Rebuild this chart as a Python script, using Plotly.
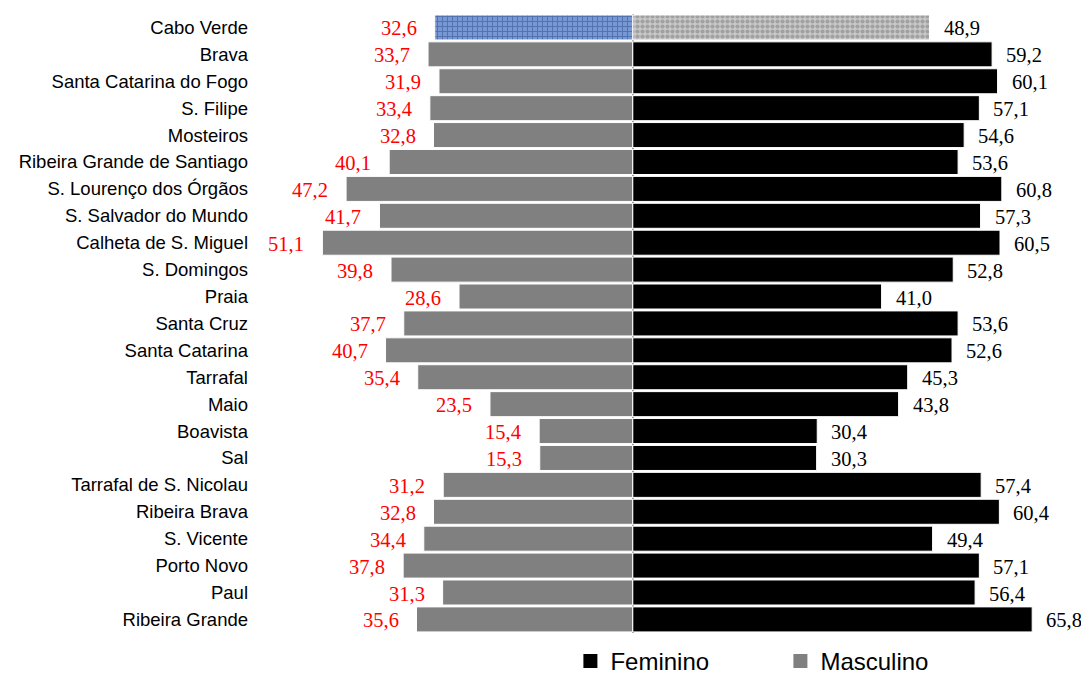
import plotly.graph_objects as go

categories = ["Cabo Verde", "Brava", "Santa Catarina do Fogo", "S. Filipe", "Mosteiros",
              "Ribeira Grande de Santiago", "S. Lourenço dos Órgãos", "S. Salvador do Mundo",
              "Calheta de S. Miguel", "S. Domingos", "Praia", "Santa Cruz", "Santa Catarina",
              "Tarrafal", "Maio", "Boavista", "Sal", "Tarrafal de S. Nicolau", "Ribeira Brava",
              "S. Vicente", "Porto Novo", "Paul", "Ribeira Grande"]
masculino = [32.6, 33.7, 31.9, 33.4, 32.8, 40.1, 47.2, 41.7, 51.1, 39.8, 28.6, 37.7, 40.7,
             35.4, 23.5, 15.4, 15.3, 31.2, 32.8, 34.4, 37.8, 31.3, 35.6]
feminino = [48.9, 59.2, 60.1, 57.1, 54.6, 53.6, 60.8, 57.3, 60.5, 52.8, 41.0, 53.6, 52.6,
            45.3, 43.8, 30.4, 30.3, 57.4, 60.4, 49.4, 57.1, 56.4, 65.8]
series_names = ["Feminino", "Masculino"]
series_colors = ["#000000", "#808080"]

def fmt(v):
    return f"{v:.1f}".replace(".", ",")

num_font = "Liberation Serif, Times New Roman, serif"
lab_font = "Liberation Sans, Arial, sans-serif"

fig = go.Figure()

# Main series (excluding Cabo Verde total, drawn with textures)
fig.add_trace(go.Bar(
    name="Feminino", y=categories[1:], x=feminino[1:], orientation="h", showlegend=False,
    marker=dict(color="#000000", line=dict(color="#ffffff", width=1)),
))
fig.add_trace(go.Bar(
    name="Masculino", y=categories[1:], x=[-v for v in masculino[1:]], orientation="h",
    showlegend=False,
    marker=dict(color="#808080", line=dict(color="#ffffff", width=1)),
))
# Cabo Verde textured bars
fig.add_trace(go.Bar(
    y=categories[:1], x=feminino[:1], orientation="h", showlegend=False,
    marker=dict(color="#c4c4c4", line=dict(color="#ffffff", width=1),
                pattern=dict(shape=".", fgcolor="#7a7a7a", bgcolor="#c8c8c8", size=5, solidity=0.55)),
))
fig.add_trace(go.Bar(
    y=categories[:1], x=[-masculino[0]], orientation="h", showlegend=False,
    marker=dict(color="#7393d0", line=dict(color="#ffffff", width=1),
                pattern=dict(shape="+", fgcolor="#2a4a8a", bgcolor="#7898d4", size=5, solidity=0.35)),
))

# Legend entries
for nm, col in zip(series_names, series_colors):
    fig.add_trace(go.Scatter(
        x=[None], y=[None], mode="markers", name=nm,
        marker=dict(symbol="square", size=14, color=col),
    ))

annotations = []
for c, m, f in zip(categories, masculino, feminino):
    annotations.append(dict(x=-m, y=c, xref="x", yref="y", text=fmt(m), showarrow=False,
                            xanchor="right", xshift=-16, yshift=-1,
                            font=dict(family=num_font, size=20.5, color="#ff0000")))
    annotations.append(dict(x=f, y=c, xref="x", yref="y", text=fmt(f), showarrow=False,
                            xanchor="left", xshift=12, yshift=-1,
                            font=dict(family=num_font, size=20.5, color="#000000")))

fig.update_layout(
    width=1089, height=682,
    margin=dict(l=247, r=12, t=6, b=55),
    barmode="overlay", bargap=0.07,
    plot_bgcolor="#ffffff", paper_bgcolor="#ffffff",
    annotations=annotations,
    showlegend=True,
    legend=dict(orientation="h", xref="paper", x=0.38, xanchor="left",
                yref="container", y=0.042, yanchor="middle",
                font=dict(family=lab_font, size=24, color="#000000"),
                entrywidth=165, entrywidthmode="pixels", itemclick=False),
)
fig.update_xaxes(range=[-62.2, 74.5], showgrid=False, showticklabels=False, ticks="",
                 zeroline=True, zerolinecolor="#8c8c8c", zerolinewidth=2, layer="above traces",
                 fixedrange=True)
fig.update_yaxes(categoryorder="array", categoryarray=categories, range=[22.5, -0.5],
                 showgrid=False, ticks="", tickfont=dict(family=lab_font, size=18.5, color="#000000"),
                 ticklabelstandoff=6, fixedrange=True)

fig.write_html("out.html")
